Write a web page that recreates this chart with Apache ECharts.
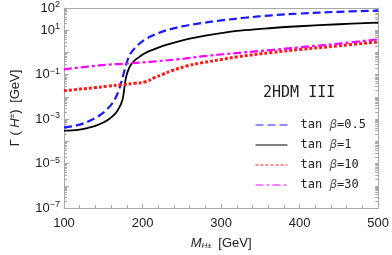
<!DOCTYPE html>
<html><head><meta charset="utf-8">
<script src="https://cdn.jsdelivr.net/npm/echarts@6/dist/echarts.min.js"></script>
<style>html,body{margin:0;padding:0;background:#fff}#c{width:392px;height:255px}</style>
</head><body><div id="c"></div>
<script>
// ---- data ----
const seriesNames = ['tan β=0.5', 'tan β=1', 'tan β=10', 'tan β=30'];

const massA = [100,110,120,130,140,148,155,160,164,167,170,172.5,175,177.5,180,183,187,192,198,205,215,229,250,275,300,330,365,400,450,500];
const widthA = [4.27e-4,4.68e-4,5.62e-4,7.59e-4,1.12e-3,1.70e-3,2.82e-3,4.37e-3,7.08e-3,1.12e-2,2.09e-2,3.98e-2,8.32e-2,0.178,0.355,0.692,1.15,1.82,2.82,4.17,6.31,9.55,14.8,20.9,27.5,36.3,46.8,56.2,67.6,75.9];

const massB = [100,110,120,130,140,150,158,164,168,171,173,174.5,175.5,176.5,177.5,178.5,180,182,185,190,196,202,210,220,230,245,260,280,300,330,365,400,450,500];
const widthB = [3.02e-4,3.09e-4,3.39e-4,3.98e-4,5.01e-4,7.08e-4,1.05e-3,1.58e-3,2.40e-3,3.63e-3,5.25e-3,7.59e-3,1.12e-2,2.00e-2,3.80e-2,6.31e-2,0.105,0.166,0.275,0.437,0.631,0.871,1.20,1.66,2.19,3.09,4.17,5.75,7.41,10.0,12.6,15.1,18.6,21.9];

const massC = [100,120,140,155,174,190,204,216,225,237,257,275,300,320,365,400,450,500];
const widthC = [0.019,0.0224,0.0263,0.030,0.0355,0.041,0.048,0.076,0.10,0.15,0.25,0.34,0.48,0.63,1.0,1.35,2.0,3.0];

const massD = [100,130,155,182,210,247,275,302,364,400,450,500];
const widthD = [0.174,0.23,0.28,0.32,0.38,0.50,0.66,0.83,1.29,1.7,2.5,3.9];

const xTicks = [100,200,300,400,500];
const yLabelValues = [1e2,1e1,1e-1,1e-3,1e-5,1e-7];
const yLabelText = {'2':'2','1':'1','-1':'\u22121','-3':'\u22123','-5':'\u22125','-7':'\u22127'};
const decades = [1e-7,1e-6,1e-5,1e-4,1e-3,1e-2,1e-1,1,10,100];

const minorY = [];
for (let d = -7; d < 2; d++) for (let k = 2; k <= 9; k++) minorY.push(k * Math.pow(10, d));

function zip(xs, ys){ return xs.map((x,i)=>[x, ys[i]]); }

const gray = '#a8a8a8';
const chart = echarts.init(document.getElementById('c'), null, {renderer:'canvas'});
const baseFont = 'Liberation Sans, Arial, sans-serif';
const mono = 'DejaVu Sans Mono, monospace';

const logAxisBase = {type:'log', logBase:10, min:1e-7, max:100, splitLine:{show:false}};

chart.setOption({
  animation:false,
  backgroundColor:'#fff',
  grid:{left:55, top:8, right:11, bottom:47, containLabel:false},
  xAxis:[{
    type:'value', min:100, max:500, interval:100,
    axisLine:{show:true, onZero:false, lineStyle:{color:gray}},
    axisTick:{show:true, inside:true, length:4, lineStyle:{color:gray}},
    minorTick:{show:true, splitNumber:5, length:3, lineStyle:{color:gray}},
    splitLine:{show:false},
    axisLabel:{color:'#222', fontFamily:baseFont, fontSize:13, margin:9, customValues: xTicks},
    name:'{i|M}{s|H±}  {t|[GeV]}', nameLocation:'middle', nameGap:28,
    nameTextStyle:{rich:{
      i:{fontFamily:baseFont, fontStyle:'italic', fontSize:13, color:'#222'},
      s:{fontFamily:baseFont, fontStyle:'italic', fontSize:8, color:'#222', verticalAlign:'bottom', padding:[6,0,0,0]},
      t:{fontFamily:baseFont, fontSize:13, color:'#222'}
    }}
  },{
    type:'value', min:100, max:500, position:'top',
    axisLine:{show:true, lineStyle:{color:gray}}, axisTick:{show:false}, axisLabel:{show:false}, splitLine:{show:false}
  }],
  yAxis:[
    Object.assign({}, logAxisBase, {
      position:'left', offset:0,
      axisLine:{show:true, lineStyle:{color:gray}},
      axisTick:{show:true, inside:true, length:5, customValues: decades, lineStyle:{color:gray}},
      axisLabel:{
        customValues: yLabelValues, margin:4,
        formatter: v => { const e = Math.round(Math.log10(v)); return '{b|10}{e|' + yLabelText[String(e)] + '}'; },
        rich:{
          b:{fontFamily:baseFont, fontSize:13, color:'#222'},
          e:{fontFamily:baseFont, fontSize:9, color:'#222', verticalAlign:'top', padding:[0,0,7,0]}
        }
      },
      name:'{t|\u0393 ( }{i|H}{s|±}{t|)}  {t|[GeV]}', nameLocation:'middle', nameGap:42,
      nameTextStyle:{rich:{
        t:{fontFamily:baseFont, fontSize:13, color:'#222'},
        i:{fontFamily:baseFont, fontStyle:'italic', fontSize:13, color:'#222'},
        s:{fontFamily:baseFont, fontSize:8, color:'#222', verticalAlign:'top', padding:[0,0,6,0]}
      }}
    }),
    Object.assign({}, logAxisBase, {
      position:'left', offset:0,
      axisLine:{show:false},
      axisTick:{show:true, inside:true, length:3, customValues: minorY, lineStyle:{color:gray}},
      axisLabel:{show:false}
    }),
    Object.assign({}, logAxisBase, {
      position:'right', offset:0,
      axisLine:{show:true, lineStyle:{color:gray}},
      axisTick:{show:true, inside:true, length:3, customValues: minorY.concat(decades), lineStyle:{color:gray}},
      axisLabel:{show:false}
    })
  ],
  legend:{
    show:true,
    orient:'vertical', left:250, top:114, itemWidth:32, itemHeight:14, itemGap:8,
    data: seriesNames,
    itemStyle:{opacity:0},
    lineStyle:{width:1},
    textStyle:{fontFamily:mono, fontSize:12, color:'#222', padding:[0,0,0,8],
      rich:{b:{fontFamily:'DejaVu Sans', fontStyle:'italic', fontSize:12, color:'#555'}}},
    formatter: n => n.replace('β', '{b|β}')
  },
  graphic:[{type:'text', left:263, top:86, style:{text:'2HDM III', font:'15px DejaVu Sans Mono', fill:'#222'}}],
  series:[
    {name:seriesNames[0], type:'line', data:zip(massA,widthA), showSymbol:false, symbol:'none', smooth:0.4,
      lineStyle:{color:'#1a1aff', width:2.2, type:[8,4]}, itemStyle:{color:'#1a1aff'}},
    {name:seriesNames[1], type:'line', data:zip(massB,widthB), showSymbol:false, symbol:'none', smooth:0.4,
      lineStyle:{color:'#000', width:1.8, type:'solid'}, itemStyle:{color:'#000'}},
    {name:seriesNames[2], type:'line', data:zip(massC,widthC), showSymbol:false, symbol:'none', smooth:0.4,
      lineStyle:{color:'#ff1a1a', width:3, type:[3,2]}, itemStyle:{color:'#ff1a1a'}},
    {name:seriesNames[3], type:'line', data:zip(massD,widthD), showSymbol:false, symbol:'none', smooth:0.4,
      lineStyle:{color:'#ff00ff', width:2.2, type:[8,3,3,3]}, itemStyle:{color:'#ff00ff'}}
  ]
});
</script></body></html>
